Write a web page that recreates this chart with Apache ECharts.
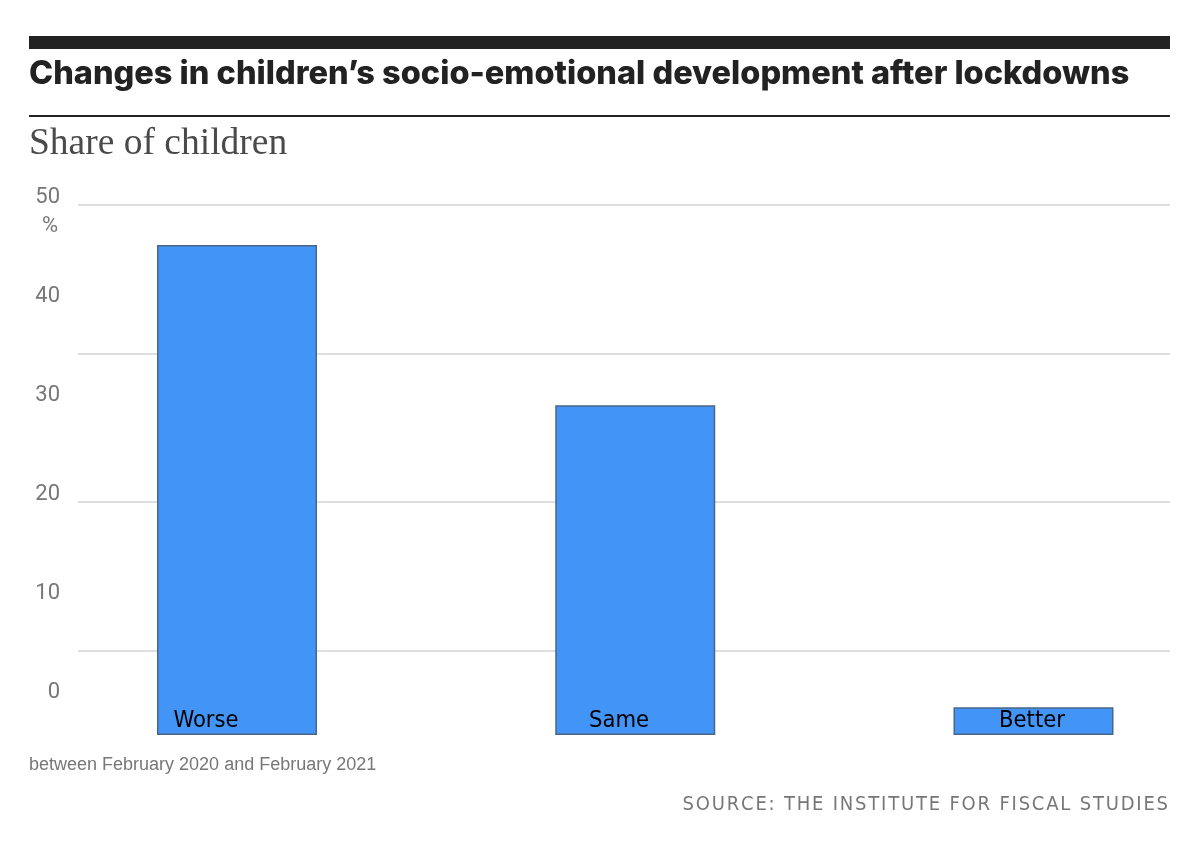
<!DOCTYPE html>
<html>
<head>
<meta charset="utf-8">
<title>Changes in children's socio-emotional development after lockdowns</title>
<script src="https://cdn.jsdelivr.net/npm/echarts@6/dist/echarts.min.js"></script>
<style>
  html, body { margin: 0; padding: 0; background: #fff; }
  #chart { width: 1200px; height: 846px; }
</style>
</head>
<body>
<div id="chart"></div>
<script>
// data
const categories = ['Worse', 'Same', 'Better'];
const shares = [49.5, 33.3, 2.8];          // share of children, %
const yTicks = [0, 10, 20, 30, 40, 50];    // labelled ticks
const guideSteps = [0, 1, 2, 3];           // the light rules behind the bars

const NARROW = "'Liberation Sans Narrow', 'DejaVu Sans Condensed', sans-serif";
const GREY = '#777';
const SOURCE = 'SOURCE: THE INSTITUTE FOR FISCAL STUDIES';

const chart = echarts.init(document.getElementById('chart'), null, { renderer: 'canvas' });

// tracked-out source line: one rich token per character
const trackedSource = SOURCE.split('').map(c => '{s|' + c + '}').join('');

const yMin = yTicks[0], yMax = yTicks[yTicks.length - 1], yStep = yTicks[1] - yTicks[0];

const option = {
  backgroundColor: '#fff',
  animation: false,
  graphic: [
    { type: 'rect', shape: { x: 29, y: 36, width: 1141, height: 13 }, style: { fill: '#222' } },
    {
      type: 'text', x: 29, y: 74,
      style: {
        text: 'Changes in children\u2019s socio-emotional development after lockdowns',
        font: '800 32.5px Inter, Roboto, sans-serif', fill: '#222', textVerticalAlign: 'middle'
      }
    },
    { type: 'rect', shape: { x: 29, y: 115, width: 1141, height: 2 }, style: { fill: '#222' } },
    {
      type: 'text', x: 29, y: 144,
      style: { text: 'Share of children', font: '37.5px "Liberation Serif", serif', fill: '#4a4a4a', textVerticalAlign: 'middle' }
    },
    {
      type: 'text', x: 29, y: 765,
      style: { text: 'between February 2020 and February 2021', font: '18px "Liberation Sans", sans-serif', fill: GREY, textVerticalAlign: 'middle' }
    },
    {
      type: 'text', x: 1168, y: 805,
      style: {
        text: trackedSource, textAlign: 'right', textVerticalAlign: 'middle',
        rich: { s: { font: '20px ' + NARROW, fill: GREY, padding: [0, 0, 0, 1.8] } }
      }
    }
  ],
  grid: [
    { left: 237, right: 166.5, top: 240, bottom: 111 },   // bars
    { left: 78, right: 30, top: 205, bottom: 195.5 },     // guide rules
    { left: 206, right: 168, top: 240, bottom: 111 },     // category labels
    { left: 78, right: 30, top: 197, bottom: 154 }        // tick labels
  ],
  xAxis: [
    { gridIndex: 0, type: 'category', data: categories, boundaryGap: false, show: false },
    { gridIndex: 1, type: 'value', min: 0, max: 1, show: false },
    {
      gridIndex: 2, type: 'category', data: categories, boundaryGap: false, z: 10,
      axisLine: { show: false }, axisTick: { show: false }, splitLine: { show: false },
      axisLabel: { inside: true, margin: 2, color: '#000', fontSize: 23.5, fontFamily: NARROW, interval: 0 }
    },
    { gridIndex: 3, type: 'value', min: 0, max: 1, show: false }
  ],
  yAxis: [
    { gridIndex: 0, type: 'value', min: yMin, max: yMax, interval: yStep, show: false },
    {
      gridIndex: 1, type: 'value',
      min: guideSteps[0], max: guideSteps[guideSteps.length - 1], interval: 1,
      axisLine: { show: false }, axisTick: { show: false }, axisLabel: { show: false },
      splitLine: { show: true, lineStyle: { color: '#dedede', width: 2 } }
    },
    { gridIndex: 2, type: 'value', show: false },
    {
      gridIndex: 3, type: 'value', min: yMin, max: yMax, interval: yStep,
      axisLine: { show: false }, axisTick: { show: false }, splitLine: { show: false },
      axisLabel: { margin: 18, color: GREY, fontSize: 22, fontFamily: 'Roboto, sans-serif', hideOverlap: false },
      name: '%', nameLocation: 'end', nameGap: -40, nameMoveOverlap: false,
      nameTextStyle: { color: GREY, fontSize: 22, fontFamily: 'Roboto, sans-serif', align: 'right', padding: [0, 20, 0, 0] }
    }
  ],
  series: [
    {
      type: 'bar', xAxisIndex: 0, yAxisIndex: 0, data: shares,
      barWidth: 160, clip: false,
      itemStyle: { color: '#4394f7', borderColor: '#4a6686', borderWidth: 1.5 }
    }
  ]
};

chart.setOption(option);
</script>
</body>
</html>
